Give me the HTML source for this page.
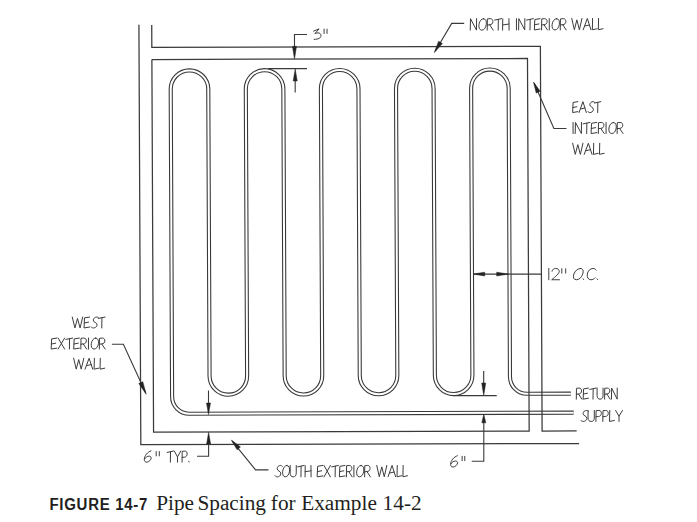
<!DOCTYPE html>
<html><head><meta charset="utf-8"><style>
html,body{margin:0;padding:0;background:#fff;width:697px;height:522px;overflow:hidden}
svg{position:absolute;left:0;top:0}
.cap{position:absolute;left:0;top:0;white-space:nowrap;color:#231f20}
.fig{position:absolute;font-family:"Liberation Sans",sans-serif;font-weight:bold;font-size:15px;letter-spacing:0.7px;left:49.5px;top:496px;line-height:17px;transform:scaleY(1.09);transform-origin:0 13.5px}
.ttl{position:absolute;font-family:"Liberation Serif",serif;font-size:21.3px;top:491.8px;line-height:22px;transform:scaleY(0.95);transform-origin:0 18px}
</style></head><body>
<svg width="697" height="522" viewBox="0 0 697 522">
<g transform="matrix(1,-0.0027,0.0045,1,-1.0800,0.9180)"><path d="M572.9,413.3 L188.40,413.3 A17.0,17.0 0 0 1 171.40,396.30 L171.40,88.75 A18.775,18.775 0 0 1 208.95,88.75 L208.95,375.60 A18.775,18.775 0 0 0 246.50,375.60 L246.50,88.75 A18.775,18.775 0 0 1 284.05,88.75 L284.05,375.60 A18.775,18.775 0 0 0 321.60,375.60 L321.60,88.75 A18.775,18.775 0 0 1 359.15,88.75 L359.15,375.60 A18.775,18.775 0 0 0 396.70,375.60 L396.70,88.75 A18.775,18.775 0 0 1 434.25,88.75 L434.25,375.60 A18.775,18.775 0 0 0 471.80,375.60 L471.80,88.75 A18.775,18.775 0 0 1 509.35,88.75 L509.35,377.30 A17.0,17.0 0 0 0 526.35,394.30 L570.1,394.3" fill="none" stroke="#383838" stroke-width="4.15"/><path d="M572.9,413.3 L188.40,413.3 A17.0,17.0 0 0 1 171.40,396.30 L171.40,88.75 A18.775,18.775 0 0 1 208.95,88.75 L208.95,375.60 A18.775,18.775 0 0 0 246.50,375.60 L246.50,88.75 A18.775,18.775 0 0 1 284.05,88.75 L284.05,375.60 A18.775,18.775 0 0 0 321.60,375.60 L321.60,88.75 A18.775,18.775 0 0 1 359.15,88.75 L359.15,375.60 A18.775,18.775 0 0 0 396.70,375.60 L396.70,88.75 A18.775,18.775 0 0 1 434.25,88.75 L434.25,375.60 A18.775,18.775 0 0 0 471.80,375.60 L471.80,88.75 A18.775,18.775 0 0 1 509.35,88.75 L509.35,377.30 A17.0,17.0 0 0 0 526.35,394.30 L570.1,394.3" fill="none" stroke="#fff" stroke-width="2.0"/><path d="M139.90,24.20 L139.90,444.20 L578.20,444.20" fill="none" stroke="#3a3a3a" stroke-width="1.25" stroke-linejoin="miter"/><path d="M152.70,24.60 L152.70,46.80 L541.25,46.80 L541.25,431.60 L575.80,431.60" fill="none" stroke="#3a3a3a" stroke-width="1.25" stroke-linejoin="miter"/><path d="M152.70,59.00 L528.30,59.00 L528.30,431.60 L152.70,431.60 L152.70,59.00" fill="none" stroke="#3a3a3a" stroke-width="1.25" stroke-linejoin="miter"/></g><g transform="matrix(1,-0.0027,0.0045,1,-1.0800,0.9180)"><path d="M307.92,34.41 L295.42,34.38 L295.33,56.38" fill="none" stroke="#3a3a3a" stroke-width="1.1" stroke-linejoin="miter"/><path d="M295.31,58.78 L293.37,46.27 L297.37,46.29 Z" fill="#222" stroke="#222" stroke-width="0.5"/><path d="M268.47,68.40 L307.77,68.51" fill="none" stroke="#3a3a3a" stroke-width="1.1" stroke-linejoin="miter"/><path d="M295.92,79.88 L295.86,92.48" fill="none" stroke="#3a3a3a" stroke-width="1.1" stroke-linejoin="miter"/><path d="M295.97,68.78 L297.92,80.89 L293.92,80.87 Z" fill="#222" stroke="#222" stroke-width="0.5"/><path d="M207.82,390.24 L207.76,403.64" fill="none" stroke="#3a3a3a" stroke-width="1.1" stroke-linejoin="miter"/><path d="M207.71,414.24 L205.77,402.64 L209.77,402.65 Z" fill="#222" stroke="#222" stroke-width="0.5"/><path d="M207.69,442.65 L207.63,455.95 L196.03,455.91" fill="none" stroke="#3a3a3a" stroke-width="1.1" stroke-linejoin="miter"/><path d="M207.73,431.95 L209.68,443.65 L205.68,443.64 Z" fill="#222" stroke="#222" stroke-width="0.5"/><path d="M483.11,371.39 L483.05,384.39" fill="none" stroke="#3a3a3a" stroke-width="1.1" stroke-linejoin="miter"/><path d="M483.00,396.09 L481.06,383.38 L485.06,383.40 Z" fill="#222" stroke="#222" stroke-width="0.5"/><path d="M453.10,395.91 L496.00,396.02" fill="none" stroke="#3a3a3a" stroke-width="1.1" stroke-linejoin="miter"/><path d="M482.98,422.39 L482.80,461.69 L470.80,461.66" fill="none" stroke="#3a3a3a" stroke-width="1.1" stroke-linejoin="miter"/><path d="M483.02,414.69 L484.98,423.20 L480.98,423.18 Z" fill="#222" stroke="#222" stroke-width="0.5"/><path d="M473.35,274.46 L541.65,274.64" fill="none" stroke="#3a3a3a" stroke-width="1.1" stroke-linejoin="miter"/><path d="M473.15,274.46 L484.55,272.59 L484.54,276.39 Z" fill="#222" stroke="#222" stroke-width="0.5"/><path d="M508.25,274.55 L496.54,276.42 L496.55,272.62 Z" fill="#222" stroke="#222" stroke-width="0.5"/><path d="M465.17,23.74 L452.67,23.70 L436.05,51.46" fill="none" stroke="#3a3a3a" stroke-width="1.1" stroke-linejoin="miter"/><path d="M435.14,52.85 L439.51,41.52 L443.26,43.82 Z" fill="#222" stroke="#222" stroke-width="0.5"/><path d="M567.00,129.11 L554.40,129.08 L534.91,83.82" fill="none" stroke="#3a3a3a" stroke-width="1.1" stroke-linejoin="miter"/><path d="M534.21,82.52 L540.87,91.82 L536.86,93.65 Z" fill="#222" stroke="#222" stroke-width="0.5"/><path d="M111.43,343.68 L122.93,343.72 L144.91,392.28" fill="none" stroke="#3a3a3a" stroke-width="1.1" stroke-linejoin="miter"/><path d="M145.51,393.68 L138.16,382.98 L142.16,381.14 Z" fill="#222" stroke="#222" stroke-width="0.5"/><path d="M267.47,469.71 L254.57,469.67 L231.29,440.91" fill="none" stroke="#3a3a3a" stroke-width="1.1" stroke-linejoin="miter"/><path d="M230.50,439.81 L239.51,446.67 L236.21,449.58 Z" fill="#222" stroke="#222" stroke-width="0.5"/></g>
<g transform="translate(470.25,18.65) scale(0.8316,0.9583)" fill="none" stroke="#3c3c3c" stroke-width="1.0" stroke-linecap="round" stroke-linejoin="round" vector-effect="non-scaling-stroke"><path vector-effect="non-scaling-stroke" transform="translate(0.00,0)" d="M0,12 L0.3,0 L7.5,12 L7.6,0"/><path vector-effect="non-scaling-stroke" transform="translate(9.60,0) matrix(1,0,-0.15,1,1.800,0)" d="M4.5,0 C7.5,0 8.8,3 8.8,6 C8.8,9.5 7,12 4.3,12 C1.5,12 0,9.3 0,6 C0,2.8 1.8,0 4.5,0 Z"/><path vector-effect="non-scaling-stroke" transform="translate(20.20,0)" d="M0.2,12 L0.4,0.3 L3.8,0 C6.3,0 7,1.6 7,3.1 C7,5 5.4,6.4 3.3,6.4 L0.3,6.7 M3.2,6.5 L7.4,12"/><path vector-effect="non-scaling-stroke" transform="translate(29.30,0)" d="M0,1.5 L8.4,0 M4.5,0.8 L4.3,12"/><path vector-effect="non-scaling-stroke" transform="translate(38.90,0)" d="M0.2,0.3 L0,12 M0.1,6.6 L7.6,5.6 M7.6,0 L7.8,12"/></g><g transform="translate(516.05,18.65) scale(0.8203,0.9417)" fill="none" stroke="#3c3c3c" stroke-width="1.0" stroke-linecap="round" stroke-linejoin="round" vector-effect="non-scaling-stroke"><path vector-effect="non-scaling-stroke" transform="translate(0.00,0)" d="M0.5,0 L0.5,12"/><path vector-effect="non-scaling-stroke" transform="translate(3.10,0)" d="M0,12 L0.3,0 L7.5,12 L7.6,0"/><path vector-effect="non-scaling-stroke" transform="translate(12.70,0)" d="M0,1.5 L8.4,0 M4.5,0.8 L4.3,12"/><path vector-effect="non-scaling-stroke" transform="translate(22.30,0)" d="M7,0 L0.6,0.9 L0,12 L7,11 M0.3,6.5 L5.6,5.6"/><path vector-effect="non-scaling-stroke" transform="translate(30.90,0)" d="M0.2,12 L0.4,0.3 L3.8,0 C6.3,0 7,1.6 7,3.1 C7,5 5.4,6.4 3.3,6.4 L0.3,6.7 M3.2,6.5 L7.4,12"/><path vector-effect="non-scaling-stroke" transform="translate(40.00,0)" d="M0.5,0 L0.5,12"/><path vector-effect="non-scaling-stroke" transform="translate(43.10,0) matrix(1,0,-0.15,1,1.800,0)" d="M4.5,0 C7.5,0 8.8,3 8.8,6 C8.8,9.5 7,12 4.3,12 C1.5,12 0,9.3 0,6 C0,2.8 1.8,0 4.5,0 Z"/><path vector-effect="non-scaling-stroke" transform="translate(53.70,0)" d="M0.2,12 L0.4,0.3 L3.8,0 C6.3,0 7,1.6 7,3.1 C7,5 5.4,6.4 3.3,6.4 L0.3,6.7 M3.2,6.5 L7.4,12"/></g><g transform="translate(571.75,18.45) scale(0.7864,0.9417)" fill="none" stroke="#3c3c3c" stroke-width="1.0" stroke-linecap="round" stroke-linejoin="round" vector-effect="non-scaling-stroke"><path vector-effect="non-scaling-stroke" transform="translate(0.00,0)" d="M0,0 L3.3,12 L6.5,1.5 L9.7,12 L13,0"/><path vector-effect="non-scaling-stroke" transform="translate(14.60,0)" d="M0,12 L5.2,0 L9.8,12 M2.2,8.0 L7.8,7.0"/><path vector-effect="non-scaling-stroke" transform="translate(26.20,0)" d="M0.3,0 L0,12 L6,10.9"/><path vector-effect="non-scaling-stroke" transform="translate(33.80,0)" d="M0.3,0 L0,12 L6,10.9"/></g><g transform="translate(572.65,101.65) scale(0.7453,0.9083)" fill="none" stroke="#3c3c3c" stroke-width="1.0" stroke-linecap="round" stroke-linejoin="round" vector-effect="non-scaling-stroke"><path vector-effect="non-scaling-stroke" transform="translate(0.00,0)" d="M7,0 L0.6,0.9 L0,12 L7,11 M0.3,6.5 L5.6,5.6"/><path vector-effect="non-scaling-stroke" transform="translate(8.60,0)" d="M0,12 L5.2,0 L9.8,12 M2.2,8.0 L7.8,7.0"/><path vector-effect="non-scaling-stroke" transform="translate(20.20,0) matrix(1,0,-0.2,1,2.400,0)" d="M7.4,1.0 C6.7,0.3 5.8,0 4.8,0 C2.5,0 1.1,1.4 1.1,3.1 C1.1,6.1 7,5.7 7,8.9 C7,10.9 5,12 3,12 C1.8,12 0.7,11.6 0,10.9"/><path vector-effect="non-scaling-stroke" transform="translate(29.30,0)" d="M0,1.5 L8.4,0 M4.5,0.8 L4.3,12"/></g><g transform="translate(572.65,122.45) scale(0.8252,0.9250)" fill="none" stroke="#3c3c3c" stroke-width="1.0" stroke-linecap="round" stroke-linejoin="round" vector-effect="non-scaling-stroke"><path vector-effect="non-scaling-stroke" transform="translate(0.00,0)" d="M0.5,0 L0.5,12"/><path vector-effect="non-scaling-stroke" transform="translate(3.10,0)" d="M0,12 L0.3,0 L7.5,12 L7.6,0"/><path vector-effect="non-scaling-stroke" transform="translate(12.70,0)" d="M0,1.5 L8.4,0 M4.5,0.8 L4.3,12"/><path vector-effect="non-scaling-stroke" transform="translate(22.30,0)" d="M7,0 L0.6,0.9 L0,12 L7,11 M0.3,6.5 L5.6,5.6"/><path vector-effect="non-scaling-stroke" transform="translate(30.90,0)" d="M0.2,12 L0.4,0.3 L3.8,0 C6.3,0 7,1.6 7,3.1 C7,5 5.4,6.4 3.3,6.4 L0.3,6.7 M3.2,6.5 L7.4,12"/><path vector-effect="non-scaling-stroke" transform="translate(40.00,0)" d="M0.5,0 L0.5,12"/><path vector-effect="non-scaling-stroke" transform="translate(43.10,0) matrix(1,0,-0.15,1,1.800,0)" d="M4.5,0 C7.5,0 8.8,3 8.8,6 C8.8,9.5 7,12 4.3,12 C1.5,12 0,9.3 0,6 C0,2.8 1.8,0 4.5,0 Z"/><path vector-effect="non-scaling-stroke" transform="translate(53.70,0)" d="M0.2,12 L0.4,0.3 L3.8,0 C6.3,0 7,1.6 7,3.1 C7,5 5.4,6.4 3.3,6.4 L0.3,6.7 M3.2,6.5 L7.4,12"/></g><g transform="translate(572.65,143.25) scale(0.7940,0.9250)" fill="none" stroke="#3c3c3c" stroke-width="1.0" stroke-linecap="round" stroke-linejoin="round" vector-effect="non-scaling-stroke"><path vector-effect="non-scaling-stroke" transform="translate(0.00,0)" d="M0,0 L3.3,12 L6.5,1.5 L9.7,12 L13,0"/><path vector-effect="non-scaling-stroke" transform="translate(14.60,0)" d="M0,12 L5.2,0 L9.8,12 M2.2,8.0 L7.8,7.0"/><path vector-effect="non-scaling-stroke" transform="translate(26.20,0)" d="M0.3,0 L0,12 L6,10.9"/><path vector-effect="non-scaling-stroke" transform="translate(33.80,0)" d="M0.3,0 L0,12 L6,10.9"/></g><g transform="translate(72.25,317.05) scale(0.8065,0.9083)" fill="none" stroke="#3c3c3c" stroke-width="1.0" stroke-linecap="round" stroke-linejoin="round" vector-effect="non-scaling-stroke"><path vector-effect="non-scaling-stroke" transform="translate(0.00,0)" d="M0,0 L3.3,12 L6.5,1.5 L9.7,12 L13,0"/><path vector-effect="non-scaling-stroke" transform="translate(14.60,0)" d="M7,0 L0.6,0.9 L0,12 L7,11 M0.3,6.5 L5.6,5.6"/><path vector-effect="non-scaling-stroke" transform="translate(23.20,0) matrix(1,0,-0.2,1,2.400,0)" d="M7.4,1.0 C6.7,0.3 5.8,0 4.8,0 C2.5,0 1.1,1.4 1.1,3.1 C1.1,6.1 7,5.7 7,8.9 C7,10.9 5,12 3,12 C1.8,12 0.7,11.6 0,10.9"/><path vector-effect="non-scaling-stroke" transform="translate(32.30,0)" d="M0,1.5 L8.4,0 M4.5,0.8 L4.3,12"/></g><g transform="translate(51.15,338.05) scale(0.8111,0.9167)" fill="none" stroke="#3c3c3c" stroke-width="1.0" stroke-linecap="round" stroke-linejoin="round" vector-effect="non-scaling-stroke"><path vector-effect="non-scaling-stroke" transform="translate(0.00,0)" d="M7,0 L0.6,0.9 L0,12 L7,11 M0.3,6.5 L5.6,5.6"/><path vector-effect="non-scaling-stroke" transform="translate(8.60,0)" d="M0,0 L8,12 M8,0 L0,12"/><path vector-effect="non-scaling-stroke" transform="translate(18.20,0)" d="M0,1.5 L8.4,0 M4.5,0.8 L4.3,12"/><path vector-effect="non-scaling-stroke" transform="translate(27.80,0)" d="M7,0 L0.6,0.9 L0,12 L7,11 M0.3,6.5 L5.6,5.6"/><path vector-effect="non-scaling-stroke" transform="translate(36.40,0)" d="M0.2,12 L0.4,0.3 L3.8,0 C6.3,0 7,1.6 7,3.1 C7,5 5.4,6.4 3.3,6.4 L0.3,6.7 M3.2,6.5 L7.4,12"/><path vector-effect="non-scaling-stroke" transform="translate(45.50,0)" d="M0.5,0 L0.5,12"/><path vector-effect="non-scaling-stroke" transform="translate(48.60,0) matrix(1,0,-0.15,1,1.800,0)" d="M4.5,0 C7.5,0 8.8,3 8.8,6 C8.8,9.5 7,12 4.3,12 C1.5,12 0,9.3 0,6 C0,2.8 1.8,0 4.5,0 Z"/><path vector-effect="non-scaling-stroke" transform="translate(59.20,0)" d="M0.2,12 L0.4,0.3 L3.8,0 C6.3,0 7,1.6 7,3.1 C7,5 5.4,6.4 3.3,6.4 L0.3,6.7 M3.2,6.5 L7.4,12"/></g><g transform="translate(73.65,358.25) scale(0.7814,0.9083)" fill="none" stroke="#3c3c3c" stroke-width="1.0" stroke-linecap="round" stroke-linejoin="round" vector-effect="non-scaling-stroke"><path vector-effect="non-scaling-stroke" transform="translate(0.00,0)" d="M0,0 L3.3,12 L6.5,1.5 L9.7,12 L13,0"/><path vector-effect="non-scaling-stroke" transform="translate(14.60,0)" d="M0,12 L5.2,0 L9.8,12 M2.2,8.0 L7.8,7.0"/><path vector-effect="non-scaling-stroke" transform="translate(26.20,0)" d="M0.3,0 L0,12 L6,10.9"/><path vector-effect="non-scaling-stroke" transform="translate(33.80,0)" d="M0.3,0 L0,12 L6,10.9"/></g><g transform="translate(548.25,268.45) scale(1.1111,0.9417)" fill="none" stroke="#3c3c3c" stroke-width="1.0" stroke-linecap="round" stroke-linejoin="round" vector-effect="non-scaling-stroke"><path vector-effect="non-scaling-stroke" transform="translate(0.00,0)" d="M0.5,0 L0.5,12"/><path vector-effect="non-scaling-stroke" transform="translate(3.10,0)" d="M0.3,3 C0.6,1 2,0 3.6,0 C5.5,0 6.8,1.3 6.8,3.1 C6.8,5.5 3.5,8.5 0,12 L7,12"/><path vector-effect="non-scaling-stroke" transform="translate(11.70,0)" d="M0.5,0.3 L0.5,5 M4,0.3 L4,5"/></g><g transform="translate(571.95,268.45) scale(1.0514,0.9417)" fill="none" stroke="#3c3c3c" stroke-width="1.0" stroke-linecap="round" stroke-linejoin="round" vector-effect="non-scaling-stroke"><path vector-effect="non-scaling-stroke" transform="translate(0.00,0) matrix(1,0,-0.3,1,3.600,0)" d="M4.5,0 C7.2,0 8.4,2.8 8.4,6 C8.4,9.5 6.8,12 4.2,12 C1.5,12 0,9.3 0,6 C0,2.8 1.8,0 4.5,0 Z"/><path vector-effect="non-scaling-stroke" transform="translate(10.10,0)" d="M0.5,11.0 L1.0,11.8"/><path vector-effect="non-scaling-stroke" transform="translate(13.70,0) matrix(1,0,-0.15,1,1.800,0)" d="M7.8,1.8 C7,0.6 5.8,0 4.5,0 C1.8,0 0,2.8 0,6 C0,9.4 1.8,12 4.5,12 C5.9,12 7.1,11.3 7.9,10"/><path vector-effect="non-scaling-stroke" transform="translate(23.30,0)" d="M0.5,11.0 L1.0,11.8"/></g><g transform="translate(576.15,388.05) scale(0.7667,0.9250)" fill="none" stroke="#3c3c3c" stroke-width="1.0" stroke-linecap="round" stroke-linejoin="round" vector-effect="non-scaling-stroke"><path vector-effect="non-scaling-stroke" transform="translate(0.00,0)" d="M0.2,12 L0.4,0.3 L3.8,0 C6.3,0 7,1.6 7,3.1 C7,5 5.4,6.4 3.3,6.4 L0.3,6.7 M3.2,6.5 L7.4,12"/><path vector-effect="non-scaling-stroke" transform="translate(9.10,0)" d="M7,0 L0.6,0.9 L0,12 L7,11 M0.3,6.5 L5.6,5.6"/><path vector-effect="non-scaling-stroke" transform="translate(17.70,0)" d="M0,1.5 L8.4,0 M4.5,0.8 L4.3,12"/><path vector-effect="non-scaling-stroke" transform="translate(27.30,0)" d="M0,0 L0,8.2 C0,10.7 1.6,12 3.9,12 C6.2,12 7.8,10.7 7.8,8.2 L7.8,0"/><path vector-effect="non-scaling-stroke" transform="translate(36.90,0)" d="M0.2,12 L0.4,0.3 L3.8,0 C6.3,0 7,1.6 7,3.1 C7,5 5.4,6.4 3.3,6.4 L0.3,6.7 M3.2,6.5 L7.4,12"/><path vector-effect="non-scaling-stroke" transform="translate(46.00,0)" d="M0,12 L0.3,0 L7.5,12 L7.6,0"/></g><g transform="translate(580.75,410.45) scale(0.8019,0.9167)" fill="none" stroke="#3c3c3c" stroke-width="1.0" stroke-linecap="round" stroke-linejoin="round" vector-effect="non-scaling-stroke"><path vector-effect="non-scaling-stroke" transform="translate(0.00,0) matrix(1,0,-0.2,1,2.400,0)" d="M7.4,1.0 C6.7,0.3 5.8,0 4.8,0 C2.5,0 1.1,1.4 1.1,3.1 C1.1,6.1 7,5.7 7,8.9 C7,10.9 5,12 3,12 C1.8,12 0.7,11.6 0,10.9"/><path vector-effect="non-scaling-stroke" transform="translate(9.10,0)" d="M0,0 L0,8.2 C0,10.7 1.6,12 3.9,12 C6.2,12 7.8,10.7 7.8,8.2 L7.8,0"/><path vector-effect="non-scaling-stroke" transform="translate(18.70,0)" d="M0.2,12 L0.4,0.3 L3.8,0 C6.3,0 7,1.6 7,3.2 C7,5.1 5.4,6.6 3.3,6.6 L0.3,6.9"/><path vector-effect="non-scaling-stroke" transform="translate(27.30,0)" d="M0.2,12 L0.4,0.3 L3.8,0 C6.3,0 7,1.6 7,3.2 C7,5.1 5.4,6.6 3.3,6.6 L0.3,6.9"/><path vector-effect="non-scaling-stroke" transform="translate(35.90,0)" d="M0.3,0 L0,12 L6,10.9"/><path vector-effect="non-scaling-stroke" transform="translate(43.50,0)" d="M0,0 L4.2,6.3 L8.5,0 M4.2,6.3 L4.2,12"/></g><g transform="translate(274.95,465.45) scale(0.7740,0.9500)" fill="none" stroke="#3c3c3c" stroke-width="1.0" stroke-linecap="round" stroke-linejoin="round" vector-effect="non-scaling-stroke"><path vector-effect="non-scaling-stroke" transform="translate(0.00,0) matrix(1,0,-0.2,1,2.400,0)" d="M7.4,1.0 C6.7,0.3 5.8,0 4.8,0 C2.5,0 1.1,1.4 1.1,3.1 C1.1,6.1 7,5.7 7,8.9 C7,10.9 5,12 3,12 C1.8,12 0.7,11.6 0,10.9"/><path vector-effect="non-scaling-stroke" transform="translate(9.10,0) matrix(1,0,-0.15,1,1.800,0)" d="M4.5,0 C7.5,0 8.8,3 8.8,6 C8.8,9.5 7,12 4.3,12 C1.5,12 0,9.3 0,6 C0,2.8 1.8,0 4.5,0 Z"/><path vector-effect="non-scaling-stroke" transform="translate(19.70,0)" d="M0,0 L0,8.2 C0,10.7 1.6,12 3.9,12 C6.2,12 7.8,10.7 7.8,8.2 L7.8,0"/><path vector-effect="non-scaling-stroke" transform="translate(29.30,0)" d="M0,1.5 L8.4,0 M4.5,0.8 L4.3,12"/><path vector-effect="non-scaling-stroke" transform="translate(38.90,0)" d="M0.2,0.3 L0,12 M0.1,6.6 L7.6,5.6 M7.6,0 L7.8,12"/></g><g transform="translate(317.15,465.45) scale(0.7991,0.9500)" fill="none" stroke="#3c3c3c" stroke-width="1.0" stroke-linecap="round" stroke-linejoin="round" vector-effect="non-scaling-stroke"><path vector-effect="non-scaling-stroke" transform="translate(0.00,0)" d="M7,0 L0.6,0.9 L0,12 L7,11 M0.3,6.5 L5.6,5.6"/><path vector-effect="non-scaling-stroke" transform="translate(8.60,0)" d="M0,0 L8,12 M8,0 L0,12"/><path vector-effect="non-scaling-stroke" transform="translate(18.20,0)" d="M0,1.5 L8.4,0 M4.5,0.8 L4.3,12"/><path vector-effect="non-scaling-stroke" transform="translate(27.80,0)" d="M7,0 L0.6,0.9 L0,12 L7,11 M0.3,6.5 L5.6,5.6"/><path vector-effect="non-scaling-stroke" transform="translate(36.40,0)" d="M0.2,12 L0.4,0.3 L3.8,0 C6.3,0 7,1.6 7,3.1 C7,5 5.4,6.4 3.3,6.4 L0.3,6.7 M3.2,6.5 L7.4,12"/><path vector-effect="non-scaling-stroke" transform="translate(45.50,0)" d="M0.5,0 L0.5,12"/><path vector-effect="non-scaling-stroke" transform="translate(48.60,0) matrix(1,0,-0.15,1,1.800,0)" d="M4.5,0 C7.5,0 8.8,3 8.8,6 C8.8,9.5 7,12 4.3,12 C1.5,12 0,9.3 0,6 C0,2.8 1.8,0 4.5,0 Z"/><path vector-effect="non-scaling-stroke" transform="translate(59.20,0)" d="M0.2,12 L0.4,0.3 L3.8,0 C6.3,0 7,1.6 7,3.1 C7,5 5.4,6.4 3.3,6.4 L0.3,6.7 M3.2,6.5 L7.4,12"/></g><g transform="translate(376.75,465.45) scale(0.7739,0.9417)" fill="none" stroke="#3c3c3c" stroke-width="1.0" stroke-linecap="round" stroke-linejoin="round" vector-effect="non-scaling-stroke"><path vector-effect="non-scaling-stroke" transform="translate(0.00,0)" d="M0,0 L3.3,12 L6.5,1.5 L9.7,12 L13,0"/><path vector-effect="non-scaling-stroke" transform="translate(14.60,0)" d="M0,12 L5.2,0 L9.8,12 M2.2,8.0 L7.8,7.0"/><path vector-effect="non-scaling-stroke" transform="translate(26.20,0)" d="M0.3,0 L0,12 L6,10.9"/><path vector-effect="non-scaling-stroke" transform="translate(33.80,0)" d="M0.3,0 L0,12 L6,10.9"/></g><g transform="translate(144.35,450.85) scale(0.9067,0.9417)" fill="none" stroke="#3c3c3c" stroke-width="1.0" stroke-linecap="round" stroke-linejoin="round" vector-effect="non-scaling-stroke"><path vector-effect="non-scaling-stroke" transform="translate(0.00,0)" d="M7.3,0 C3.6,1.2 0,5 0,9.2 C0,11.2 1,12 2.6,12 C5.2,12 7.5,9.4 7.5,7.5 C7.5,6.3 6.6,5.6 5.3,5.6 C3.2,5.6 1.3,7 0.2,8.6"/></g><g transform="translate(155.75,451.25) scale(0.8889,0.9250)" fill="none" stroke="#3c3c3c" stroke-width="1.0" stroke-linecap="round" stroke-linejoin="round" vector-effect="non-scaling-stroke"><path vector-effect="non-scaling-stroke" transform="translate(0.00,0)" d="M0.5,0.3 L0.5,5 M4,0.3 L4,5"/></g><g transform="translate(167.15,451.05) scale(0.7492,0.9250)" fill="none" stroke="#3c3c3c" stroke-width="1.0" stroke-linecap="round" stroke-linejoin="round" vector-effect="non-scaling-stroke"><path vector-effect="non-scaling-stroke" transform="translate(0.00,0)" d="M0,1.5 L8.4,0 M4.5,0.8 L4.3,12"/><path vector-effect="non-scaling-stroke" transform="translate(9.60,0)" d="M0,0 L4.2,6.3 L8.5,0 M4.2,6.3 L4.2,12"/><path vector-effect="non-scaling-stroke" transform="translate(19.70,0)" d="M0.2,12 L0.4,0.3 L3.8,0 C6.3,0 7,1.6 7,3.2 C7,5.1 5.4,6.6 3.3,6.6 L0.3,6.9"/><path vector-effect="non-scaling-stroke" transform="translate(28.30,0)" d="M0.5,11.0 L1.0,11.8"/></g><g transform="translate(450.65,455.75) scale(0.9200,0.9417)" fill="none" stroke="#3c3c3c" stroke-width="1.0" stroke-linecap="round" stroke-linejoin="round" vector-effect="non-scaling-stroke"><path vector-effect="non-scaling-stroke" transform="translate(0.00,0)" d="M7.3,0 C3.6,1.2 0,5 0,9.2 C0,11.2 1,12 2.6,12 C5.2,12 7.5,9.4 7.5,7.5 C7.5,6.3 6.6,5.6 5.3,5.6 C3.2,5.6 1.3,7 0.2,8.6"/></g><g transform="translate(461.75,456.05) scale(0.7556,0.9250)" fill="none" stroke="#3c3c3c" stroke-width="1.0" stroke-linecap="round" stroke-linejoin="round" vector-effect="non-scaling-stroke"><path vector-effect="non-scaling-stroke" transform="translate(0.00,0)" d="M0.5,0.3 L0.5,5 M4,0.3 L4,5"/></g><g transform="translate(313.65,28.85) scale(0.9733,0.8750)" fill="none" stroke="#3c3c3c" stroke-width="1.0" stroke-linecap="round" stroke-linejoin="round" vector-effect="non-scaling-stroke"><path vector-effect="non-scaling-stroke" transform="translate(0.00,0)" d="M0,2.6 L5.6,0 L1.3,5.5 C2.5,4.8 3.5,4.6 4.6,4.6 C6.3,4.6 7.5,5.8 7.5,7.8 C7.5,10.5 5,12 0.5,12"/></g><g transform="translate(323.65,28.85) scale(0.8444,0.9250)" fill="none" stroke="#3c3c3c" stroke-width="1.0" stroke-linecap="round" stroke-linejoin="round" vector-effect="non-scaling-stroke"><path vector-effect="non-scaling-stroke" transform="translate(0.00,0)" d="M0.5,0.3 L0.5,5 M4,0.3 L4,5"/></g>
</svg>
<div class="cap"><span class="fig">FIGURE 14-7</span><span class="ttl" style="left:156.2px">Pipe</span><span class="ttl" style="left:197.4px">Spacing</span><span class="ttl" style="left:270.8px">for</span><span class="ttl" style="left:301.2px">Example</span><span class="ttl" style="left:382.6px">14-2</span></div>
</body></html>
